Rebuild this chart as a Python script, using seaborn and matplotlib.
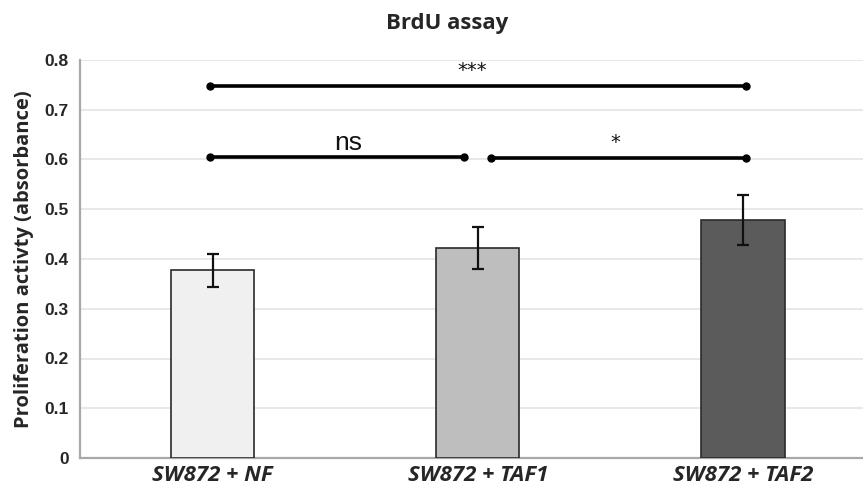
import matplotlib
matplotlib.use('Agg')
import matplotlib.pyplot as plt
import seaborn as sns
import numpy as np

# data
groups = ['SW872 + NF', 'SW872 + TAF1', 'SW872 + TAF2']
means = [0.377, 0.422, 0.478]
errors = [0.034, 0.043, 0.050]
bar_colors = ['#f0f0f0', '#bebebe', '#5b5b5b']

# significance brackets: start, end, height, label, label x
bracket_x0 = [-0.01, -0.01, 1.05]
bracket_x1 = [2.01, 0.95, 2.01]
bracket_y = [0.747, 0.605, 0.604]
bracket_labels = ['***', 'ns', '*']
label_x = [0.98, 0.51, 1.52]

sns.set_style('white')
plt.rcParams['font.family'] = ['Liberation Sans', 'DejaVu Sans']

fig = plt.figure(figsize=(8.63, 4.88), dpi=100)
ax = fig.add_axes([80 / 863, 30 / 488, 1 - 80 / 863, 398 / 488])

sns.barplot(x=groups, y=means, hue=groups, palette=bar_colors, legend=False,
            width=0.315, edgecolor='#2a2a2a', linewidth=1.2, errorbar=None,
            ax=ax, zorder=3)
ax.errorbar(np.arange(len(groups)), means, yerr=errors, fmt='none',
            ecolor='#111111', elinewidth=1.6, capsize=4, capthick=1.6, zorder=4)

# brackets
for x0, x1, y, lab, lx in zip(bracket_x0, bracket_x1, bracket_y, bracket_labels, label_x):
    ax.plot([x0, x1], [y, y], color='black', lw=2.6, marker='o', ms=5,
            solid_capstyle='round', zorder=5, clip_on=False)
    if lab == 'ns':
        ax.text(lx, y + 0.004, lab, ha='center', va='bottom', fontsize=19,
                color='#111111')
    else:
        ax.text(lx, y + 0.012, lab, ha='center', va='bottom', fontsize=14,
                color='#111111', family='DejaVu Sans')

ax.set_xlim(-0.5, 2.453)
ax.set_ylim(0, 0.8)
ax.set_yticks(np.arange(0, 0.81, 0.1))
ax.set_yticklabels(['0'] + [f'{v:.1f}' for v in np.arange(0.1, 0.81, 0.1)],
                   fontsize=12.5, fontweight='bold')
ax.yaxis.grid(True, color='#e4e4e4', lw=1.2, zorder=0)
ax.set_axisbelow(True)

ax.set_xticks([0, 1, 2])
ax.set_xticklabels(groups, fontsize=16, fontweight='bold', style='italic',
                   family='Open Sans')
ax.set_xticks([0.5, 1.5], minor=True)
ax.tick_params(axis='x', which='major', length=0, pad=5)
ax.tick_params(axis='x', which='minor', length=5, color='#999999', direction='out')
ax.tick_params(axis='y', length=5, color='#999999', direction='out', pad=3)

for side in ['top', 'right']:
    ax.spines[side].set_visible(False)
for side in ['left', 'bottom']:
    ax.spines[side].set_color('#a8a8a8')
    ax.spines[side].set_linewidth(1.6)

ax.set_ylabel('Proliferation activty (absorbance)', fontsize=14.5,
              fontweight='bold', family='Open Sans', labelpad=8)
fig.text(447 / 863, 1 - 24 / 488, 'BrdU assay', ha='center', va='center',
         fontsize=16, fontweight='bold', family='Open Sans')

plt.savefig('out.png', dpi=100)
